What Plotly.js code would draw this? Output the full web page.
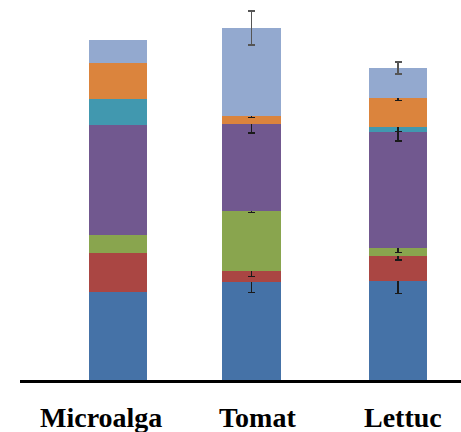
<!DOCTYPE html>
<html>
<head>
<meta charset="utf-8">
<script src="https://cdn.plot.ly/plotly-3.0.1.min.js"></script>
<style>
  html, body { margin: 0; padding: 0; background: #ffffff; }
  #chart { width: 461px; height: 432px; }
</style>
</head>
<body>
<div id="chart"></div>
<script>
// Crops on the x axis
const categories = ["Microalga", "Tomat", "Lettuc"];

// Stacked components, bottom to top
const blueValues      = [25.8, 28.8, 29.0];
const redValues       = [11.4, 3.2, 7.4];
const greenValues     = [5.4, 17.5, 2.4];
const purpleValues    = [32.3, 25.5, 33.9];
const tealValues      = [7.5, 0, 1.4];
const orangeValues    = [10.6, 2.5, 8.6];
const lightBlueValues = [6.8, 25.7, 8.8];

// Standard deviations for each component (NaN = not reported, no whisker drawn)
const blueErr      = [NaN, 3.2, 3.7];
const redErr       = [NaN, 1.7, 1.2];
const greenErr     = [NaN, 0.3, 1.5];
const purpleErr    = [NaN, 2.6, 2.6];
const tealErr      = [NaN, NaN, 1.2];
const orangeErr    = [NaN, 0.45, 0.7];
const lightBlueErr = [NaN, 5.0, 1.8];

const barWidth = 0.42;
const barOffset = [-0.21, -0.256, -0.21];

function component(values, errs, color, errColor) {
  return {
    type: "bar",
    x: categories,
    y: values,
    width: barWidth,
    offset: barOffset,
    marker: { color: color, line: { width: 0 } },
    error_y: {
      type: "data",
      array: errs,
      visible: true,
      color: errColor,
      thickness: 1.3,
      width: 3.5
    },
    hoverinfo: "y",
    showlegend: false
  };
}

const traces = [
  component(blueValues,      blueErr,      "#4572A7", "#1a1a1a"),
  component(redValues,       redErr,       "#AA4643", "#1a1a1a"),
  component(greenValues,     greenErr,     "#89A54E", "#1a1a1a"),
  component(purpleValues,    purpleErr,    "#71588F", "#1a1a1a"),
  component(tealValues,      tealErr,      "#4198AF", "#1a1a1a"),
  component(orangeValues,    orangeErr,    "#DB843D", "#1a1a1a"),
  component(lightBlueValues, lightBlueErr, "#93A9CF", "#555555")
];

const labelShift = [-17, -1, 5];
const annotations = categories.map((c, i) => ({
  x: c,
  y: 0,
  xref: "x",
  yref: "paper",
  yanchor: "top",
  yshift: -20,
  xshift: labelShift[i],
  text: c,
  showarrow: false,
  font: { family: "Liberation Serif, Times New Roman, serif", size: 28, color: "#000000", weight: "bold" }
}));

const layout = {
  width: 461,
  height: 432,
  margin: { l: 20, r: 0, t: 0, b: 52 },
  paper_bgcolor: "#ffffff",
  plot_bgcolor: "#ffffff",
  barmode: "stack",
  xaxis: {
    type: "category",
    range: [-0.7, 2.45],
    showline: true,
    linecolor: "#000000",
    linewidth: 3,
    showticklabels: false,
    ticks: "",
    showgrid: false,
    zeroline: false,
    fixedrange: true
  },
  yaxis: {
    range: [0, 380 / 3.41],
    visible: false,
    showgrid: false,
    zeroline: false,
    fixedrange: true
  },
  annotations: annotations
};

Plotly.newPlot("chart", traces, layout, { displayModeBar: false, staticPlot: true });
</script>
</body>
</html>
